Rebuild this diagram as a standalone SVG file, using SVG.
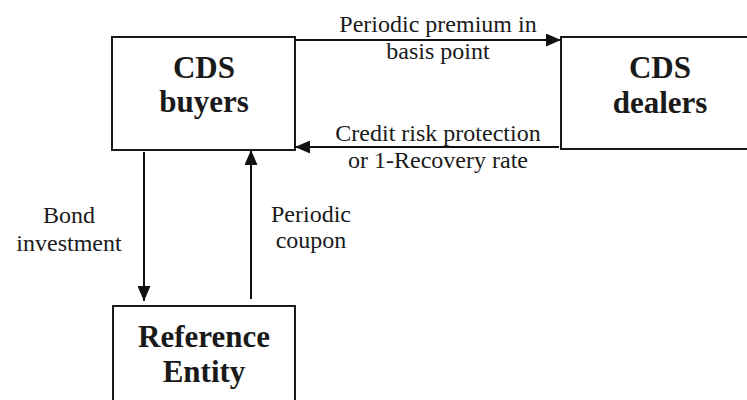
<svg xmlns="http://www.w3.org/2000/svg" width="747" height="400" viewBox="0 0 747 400">
<style>
.box{fill:#fff;stroke:#1a1a1a;stroke-width:2}
.t{font-family:"Liberation Serif","Times New Roman",serif;font-weight:bold;font-size:31px;fill:#1a1a1a;text-anchor:middle}
.l{font-family:"Liberation Serif","Times New Roman",serif;font-size:24px;fill:#1a1a1a;text-anchor:middle}
.c{stroke:#111;stroke-width:2;fill:none}
</style>
<defs>
<marker id="ah" markerUnits="userSpaceOnUse" markerWidth="16" markerHeight="13" refX="15" refY="6.5" orient="auto">
<path d="M0,0 L15,6.5 L0,13 z" fill="#111"/>
</marker>
</defs>
<rect width="747" height="400" fill="#fff"/>
<g id="buyers">
<rect class="box" x="112" y="37" width="183" height="113"/>
<text class="t" x="204" y="78">CDS</text>
<text class="t" x="204" y="112">buyers</text>
</g>
<g id="dealers">
<rect class="box" x="561" y="37" width="200" height="112"/>
<text class="t" x="660" y="78">CDS</text>
<text class="t" x="660" y="113">dealers</text>
</g>
<g id="reference">
<rect class="box" x="113" y="306" width="182" height="110"/>
<text class="t" x="204" y="347">Reference</text>
<text class="t" x="204" y="382">Entity</text>
</g>
<g id="connectors">
<line class="c" x1="295" y1="40" x2="561" y2="40" marker-end="url(#ah)"/>
<line class="c" x1="559" y1="147" x2="295" y2="147" marker-end="url(#ah)"/>
<line class="c" x1="144" y1="152" x2="144" y2="301" marker-end="url(#ah)"/>
<line class="c" x1="251" y1="299" x2="251" y2="150" marker-end="url(#ah)"/>
<text class="l" x="438" y="32">Periodic premium in</text>
<text class="l" x="438" y="59">basis point</text>
<text class="l" x="438" y="141">Credit risk protection</text>
<text class="l" x="438" y="168">or 1-Recovery rate</text>
<text class="l" x="69" y="223">Bond</text>
<text class="l" x="69" y="251">investment</text>
<text class="l" x="311" y="222">Periodic</text>
<text class="l" x="311" y="248">coupon</text>
</g>
</svg>
